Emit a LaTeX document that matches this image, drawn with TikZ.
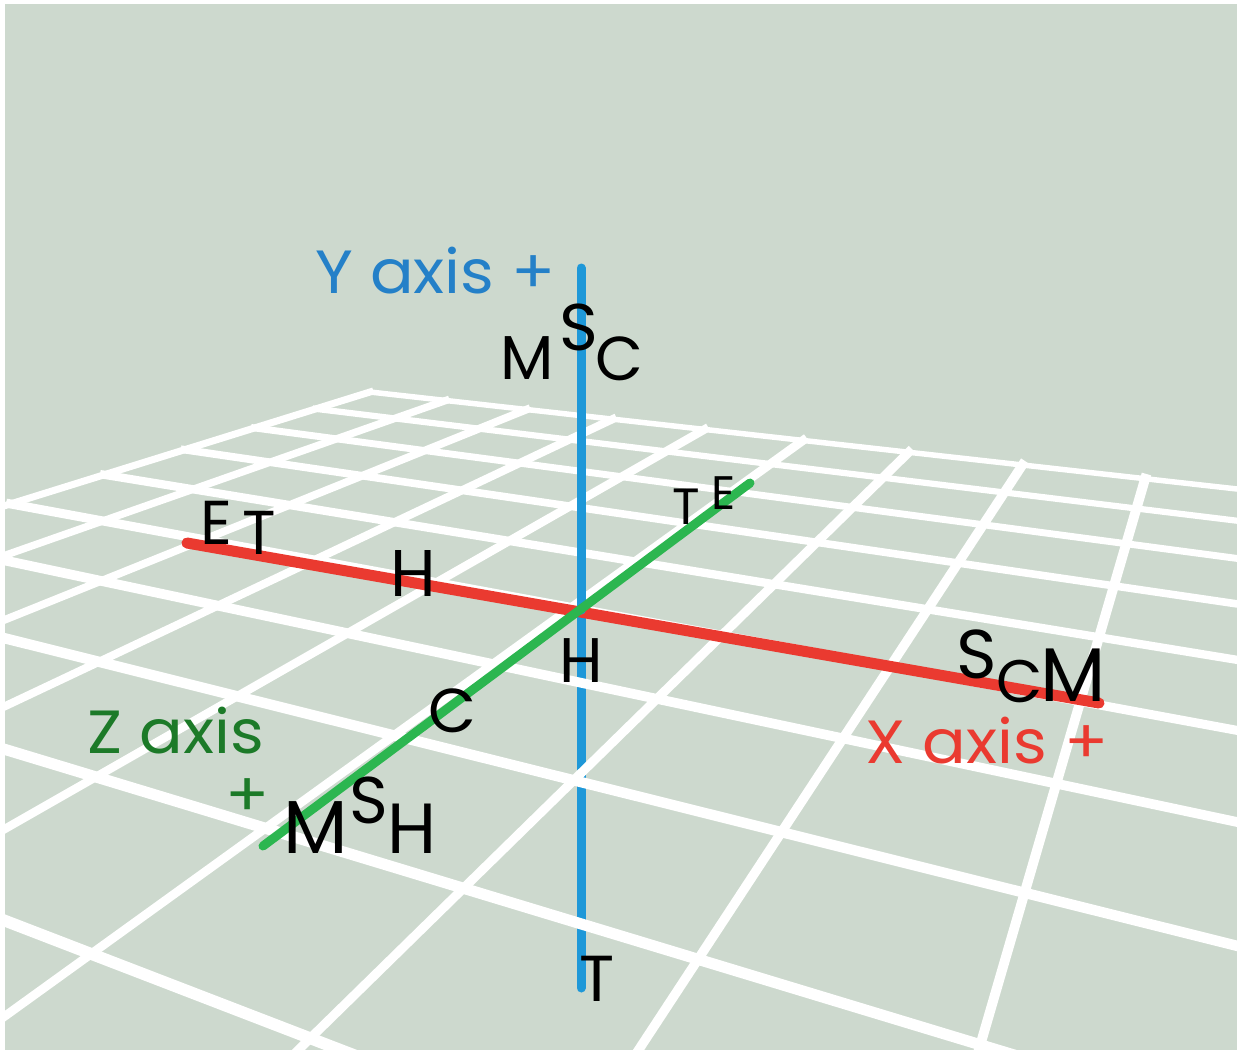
\documentclass[tikz,border=0pt]{standalone}
\usepackage{fontspec}
\setmainfont{Poppins}
\newfontfamily\labelfont[FakeStretch=1.06]{Poppins}
\usetikzlibrary{calc}
\definecolor{sage}{RGB}{205,217,206}
\definecolor{yblue}{RGB}{30,152,216}
\definecolor{ybluetxt}{RGB}{36,128,200}
\definecolor{xred}{RGB}{234,58,48}
\definecolor{zgreen}{RGB}{44,182,80}
\definecolor{zgreentxt}{RGB}{28,122,40}

% ground plane in perspective: grid point (i,j) -> picture point
\newcommand\gridpt[3]{%
  \pgfmathsetmacro\gd{1-0.03004*(#2)-0.058*(#3)}%
  \pgfmathsetmacro\gx{(370+62.48*(#2)-72.5*(#3))/\gd}%
  \pgfmathsetmacro\gy{(392-3.545*(#2)-6.844*(#3))/\gd}%
  \coordinate (#1) at (\gx,\gy)}

\begin{document}
\begin{tikzpicture}[x=1pt,y=-1pt,
  gridline/.style={draw=white,line cap=rect},
  axisline/.style={line width=#1,line cap=round},
  letter/.style={font=\fontsize{#1}{#1}\selectfont,inner sep=0pt,text=black},
  axislab/.style={font=\labelfont\fontsize{61}{61}\selectfont,inner sep=0pt,anchor=base west}]
\useasboundingbox (0,0) rectangle (1240,1053);
\fill[white] (0,0) rectangle (1240,1053);
\fill[sage] (5,4) rectangle (1237,1050);

% axes end points
\coordinate (O) at (581,610);
\coordinate (Ytop) at (581,268);
\coordinate (Ybot) at (581,988);
\coordinate (Xneg) at (187,543);
\coordinate (Xpos) at (1099,703);
\coordinate (Zpos) at (263,846);
\coordinate (Zneg) at (750,483);

% y axis below the floor
\draw[yblue,axisline=9pt] (O) -- (Ybot);

% floor grid
\begin{scope}
  \clip (5,4) rectangle (1237,1050);
  \foreach \i in {0,...,9}{
    \pgfmathsetmacro\jend{(0.85-0.03004*\i)/0.058}
    \gridpt{ca}{\i}{0};
    \gridpt{cb}{\i}{\jend};
    \pgfmathsetmacro\lw{7+0.35*\i}
    \draw[gridline,line width=\lw pt] (ca) -- (cb);
  }
  \foreach \j in {0,...,9}{
    \pgfmathsetmacro\iend{(0.85-0.058*\j)/0.03004}
    \gridpt{ra}{0}{\j};
    \gridpt{rb}{\iend}{\j};
    \pgfmathsetmacro\lw{5.5+0.7*\j}
    \draw[gridline,line width=\lw pt] (ra) -- (rb);
  }
\end{scope}

% axes above the floor
\draw[xred,axisline=11pt] (Xneg) -- (Xpos);
\draw[yblue,axisline=9pt] (Ytop) -- (O);
\draw[zgreen,axisline=9pt] (Zpos) -- (Zneg);

% letters
\node[letter=62] (m1) at (527,358) {M};
\node[letter=66] (s1) at (579,327) {S};
\node[letter=62] (c1) at (619,359) {C};
\node[letter=62] (e2) at (216,523) {E};
\node[letter=62] (t2) at (259,533) {T};
\node[letter=66] (h2) at (413,573) {H};
\node[letter=63] (h3) at (581,661) {H};
\node[letter=62] (c3) at (452,711) {C};
\node[letter=75] (m4) at (316,828) {M};
\node[letter=66] (s4) at (369,800) {S};
\node[letter=71] (h4) at (412,829) {H};
\node[letter=51] (t5) at (686,507) {T};
\node[letter=47] (e5) at (724,493) {E};
\node[letter=69] (s6) at (977,654) {S};
\node[letter=60] (c6) at (1020,681) {C};
\node[letter=76] (m6) at (1073,675) {M};
\node[letter=65] (t7) at (597,979) {T};

% axis names
\node[axislab,text=ybluetxt] (ylab) at (315,293) {Y axis +};
\node[axislab,text=xred] (xlab) at (865,763) {X axis +};
\node[axislab,text=zgreentxt] (zlab) at (87,753) {Z axis};
\node[axislab,anchor=center,text=zgreentxt] (zplus) at (248,798) {+};
\end{tikzpicture}
\end{document}
